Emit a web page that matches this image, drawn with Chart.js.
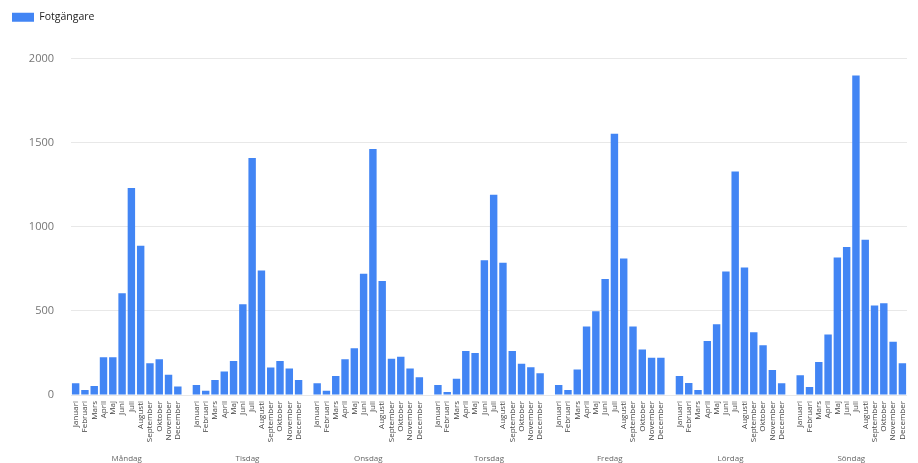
<!DOCTYPE html>
<html>
<head>
<meta charset="utf-8">
<script src="https://cdn.jsdelivr.net/npm/chart.js"></script>
<style>
  html, body { margin: 0; padding: 0; background: #fff; }
  #wrap { width: 918px; height: 463px; }
</style>
</head>
<body>
<div id="wrap"><canvas id="myChart"></canvas></div>
<script>
const days = ['Måndag', 'Tisdag', 'Onsdag', 'Torsdag', 'Fredag', 'Lördag', 'Söndag'];
const months = ['Januari', 'Februari', 'Mars', 'April', 'Maj', 'Juni', 'Juli',
  'Augusti', 'September', 'Oktober', 'November', 'December'];

const mandag  = [70, 30, 54, 224, 224, 605, 1230, 887, 188, 212, 121, 50];
const tisdag  = [60, 26, 89, 139, 202, 540, 1409, 740, 163, 202, 157, 89];
const onsdag  = [70, 26, 113, 212, 278, 720, 1462, 677, 216, 228, 157, 105];
const torsdag = [60, 18, 97, 262, 250, 801, 1190, 786, 262, 185, 165, 129];
const fredag  = [60, 30, 151, 407, 498, 689, 1553, 811, 407, 270, 222, 222];
const lordag  = [113, 71, 30, 321, 421, 734, 1329, 758, 373, 296, 149, 70];
const sondag  = [117, 48, 196, 359, 817, 879, 1899, 922, 532, 546, 317, 188];

const yTicks = [0, 500, 1000, 1500, 2000];

// 12 months per day, one empty slot between days
const perDay = [mandag, tisdag, onsdag, torsdag, fredag, lordag, sondag];
const labels = [];
const values = [];
perDay.forEach((arr, d) => {
  if (d > 0) { labels.push(''); values.push(null); }
  months.forEach((m, i) => { labels.push(m); values.push(arr[i]); });
});

const legendSpace = {
  id: 'legendSpace',
  beforeInit(chart) {
    const fit = chart.legend.fit;
    chart.legend.fit = function () {
      fit.bind(chart.legend)();
      this.height += 26;
    };
  }
};

new Chart(document.getElementById('myChart'), {
  type: 'bar',
  data: {
    labels: labels,
    datasets: [{
      label: 'Fotgängare',
      data: values,
      backgroundColor: '#4285f4',
      borderWidth: 0,
      categoryPercentage: 1,
      barPercentage: 0.8
    }]
  },
  options: {
    responsive: true,
    maintainAspectRatio: false,
    animation: false,
    layout: { padding: { left: 0, right: 2, top: 0, bottom: 0 } },
    plugins: {
      legend: {
        position: 'top',
        align: 'start',
        labels: {
          boxWidth: 22,
          boxHeight: 9,
          padding: 12,
          color: '#222',
          font: { family: 'Open Sans', size: 10.5 }
        }
      },
      tooltip: { enabled: false }
    },
    scales: {
      y: {
        min: 0,
        max: 2000,
        afterBuildTicks: s => { s.ticks = yTicks.map(v => ({ value: v })); },
        afterFit: s => { s.width = 71; },
        grid: { color: '#e8e8e8', drawTicks: false },
        border: { display: false },
        ticks: {
          padding: 17,
          color: '#757575',
          font: { family: 'Open Sans', size: 11 },
          callback: v => String(v)
        }
      },
      x: {
        afterFit: s => { s.height = 52; },
        grid: { display: false, drawTicks: false },
        border: { display: false },
        ticks: {
          autoSkip: false,
          minRotation: 90,
          maxRotation: 90,
          padding: 6,
          color: '#444',
          font: { family: 'Open Sans', size: 8 }
        }
      },
      x2: {
        type: 'linear',
        position: 'bottom',
        offset: false,
        min: -0.5,
        max: labels.length - 0.5,
        afterBuildTicks: s => { s.ticks = days.map((d, i) => ({ value: 13 * i + 5.5 })); },
        afterFit: s => { s.height = 16; },
        grid: { display: false, drawTicks: false, offset: false },
        border: { display: false },
        ticks: {
          padding: 7,
          color: '#666',
          font: { family: 'Open Sans', size: 8 },
          callback: v => days[Math.round((v - 5.5) / 13)]
        }
      }
    }
  },
  plugins: [legendSpace]
});
</script>
</body>
</html>
